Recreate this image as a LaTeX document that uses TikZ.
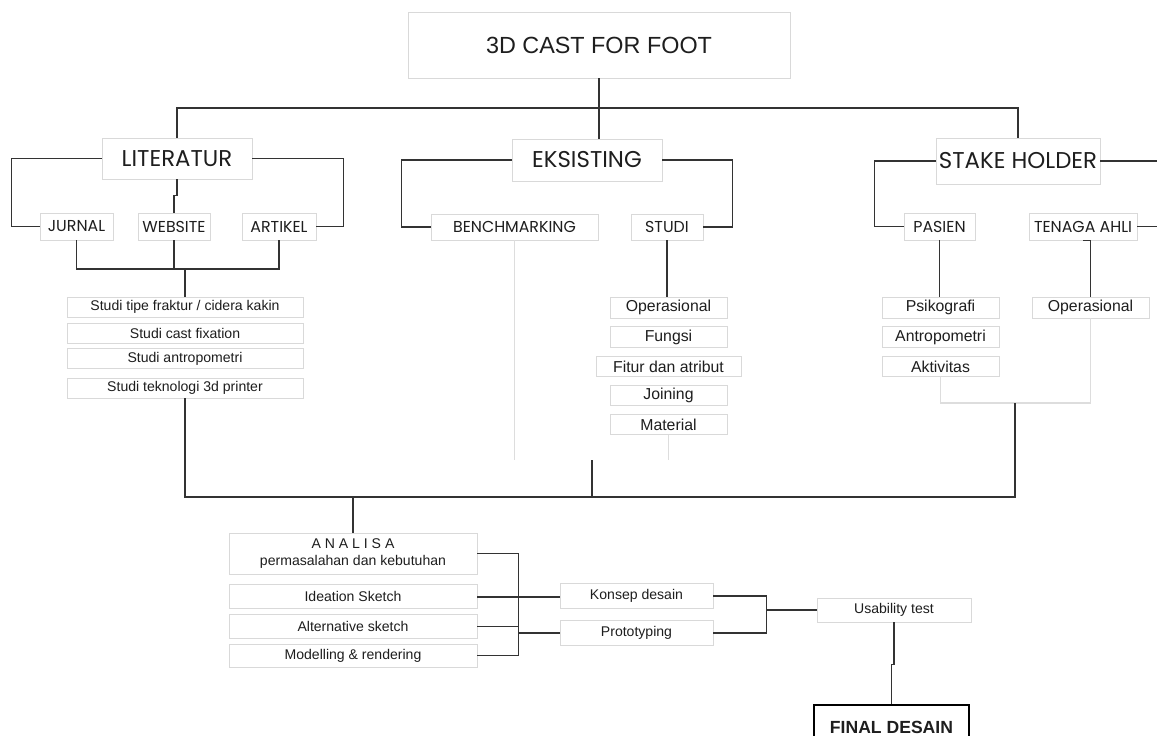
\documentclass[tikz,border=0pt]{standalone}
\usepackage{fontspec}
\setmainfont{Liberation Sans}
\newfontfamily\gothic{Poppins}
\usetikzlibrary{positioning}
\definecolor{linegray}{HTML}{333333}
\definecolor{boxgray}{HTML}{D9D9D9}
\definecolor{fadegray}{HTML}{DDDDDD}
\definecolor{textdark}{HTML}{1E1E1E}
\tikzset{
    box/.style={draw=boxgray, line width=0.4pt, inner sep=0pt, text=textdark, align=center},
    boxsize/.style 2 args={minimum width=#1*0.2mm, minimum height=#2*0.2mm},
    headbox/.style={box, font=\gothic\fontsize{13}{15}\selectfont},
    subbox/.style={box, font=\gothic\fontsize{9}{11}\selectfont},
    listbox/.style={box, font=\fontsize{8}{9.5}\selectfont},
    factbox/.style={box, font=\fontsize{9}{11}\selectfont},
    link/.style={draw=linegray, line width=0.9pt},
    faint/.style={draw=fadegray, line width=0.6pt}
}

\begin{document}
\begin{tikzpicture}[x=0.2mm, y=-0.2mm]
    \clip (0,0) rectangle (1157,735);
    \fill[white] (0,0) rectangle (1157,735);

    % Define the boxes
    \node[box, boxsize={382}{66}, font=\fontsize{13.3}{16}\selectfont] (title) at (599,45) {3D CAST FOR FOOT};
    \node[headbox, boxsize={150}{41}] (lit) at (177,158.5) {LITERATUR};
    \node[headbox, boxsize={150}{42}] (eks) at (587,160) {EKSISTING};
    \node[headbox, boxsize={164}{46}] (stake) at (1018,161) {STAKE HOLDER};

    \node[subbox, boxsize={73}{27}] (jurnal) at (76.5,226.5) {JURNAL};
    \node[subbox, boxsize={72}{27}] (website) at (174,226.5) {WEBSITE};
    \node[subbox, boxsize={74}{27}] (artikel) at (279,226.5) {ARTIKEL};
    \node[subbox, boxsize={167}{26}] (bench) at (514.5,227) {BENCHMARKING};
    \node[subbox, boxsize={72}{26}] (studi) at (667,227) {STUDI};
    \node[subbox, boxsize={71}{27}] (pasien) at (939.5,226.5) {PASIEN};
    \node[subbox, boxsize={108}{27}] (tenaga) at (1083,226.5) {TENAGA AHLI};

    \node[listbox, boxsize={236}{20}] (st1) at (185,307) {Studi tipe fraktur / cidera kakin};
    \node[listbox, boxsize={236}{20}, below=1.2mm of st1] (st2) {Studi cast fixation};
    \node[listbox, boxsize={236}{20}, below=0.8mm of st2] (st3) {Studi antropometri};
    \node[listbox, boxsize={236}{20}, below=1.8mm of st3] (st4) {Studi teknologi 3d printer};

    \node[factbox, boxsize={117}{21}] (op) at (668.5,307.5) {Operasional};
    \node[factbox, boxsize={117}{21}, below=1.6mm of op] (fungsi) {Fungsi};
    \node[factbox, boxsize={145}{20}, below=1.6mm of fungsi] (fitur) {Fitur dan atribut};
    \node[factbox, boxsize={117}{20}, below=1.6mm of fitur] (joining) {Joining};
    \node[factbox, boxsize={117}{20}, below=1.8mm of joining] (material) {Material};

    \node[factbox, boxsize={117}{21}] (psiko) at (940.5,307.5) {Psikografi};
    \node[factbox, boxsize={117}{21}, below=1.6mm of psiko] (antro) {Antropometri};
    \node[factbox, boxsize={117}{20}, below=1.6mm of antro] (aktiv) {Aktivitas};
    \node[factbox, boxsize={117}{21}] (opahli) at (1090.5,307.5) {Operasional};

    \node[listbox, boxsize={248}{41}] (analisa) at (353,553.5) {A N A L I S A\\permasalahan dan kebutuhan};
    \node[listbox, boxsize={248}{24}, below=2mm of analisa] (ideation) {Ideation Sketch};
    \node[listbox, boxsize={248}{24}, below=1mm of ideation] (alter) {Alternative sketch};
    \node[listbox, boxsize={248}{23}, below=1mm of alter] (model) {Modelling \& rendering};

    \node[listbox, boxsize={153}{25}] (konsep) at (636.5,596) {Konsep desain};
    \node[listbox, boxsize={153}{25}, below=2.2mm of konsep] (proto) {Prototyping};
    \node[listbox, boxsize={154}{24}] (usab) at (894,610) {Usability test};
    \node[box, draw=black, line width=1.2pt, boxsize={155}{44}, font=\bfseries\fontsize{10}{12}\selectfont] (final) at (891.5,727) {FINAL DESAIN};

    % Junctions
    \coordinate (top) at (599,108);
    \coordinate (litjoin) at (185,269);
    \coordinate (bot) at (353,497);
    \coordinate (eksend) at (592,460);
    \coordinate (shend) at (1015,403);
    \coordinate (offstake) at (1180,161);
    \coordinate (offahli) at (1180,226.5);

    % Draw lines between the boxes
    \draw[link] (lit.north) |- (top) -| (stake.north);
    \draw[link] (title.south) -- (title.south |- eks.north);
    \draw[link] (lit.west) -- ++(-90,0) |- (jurnal.west);
    \draw[link] (lit.east) -- ++(91,0) |- (artikel.east);
    \draw[link] (lit.south) -- ++(0,16) -| (website.north);
    \draw[link] (jurnal.south) |- (artikel.south |- litjoin) -- (artikel.south);
    \draw[link] (website.south) -- (website.south |- litjoin);
    \draw[link] (litjoin) -- (st1.north);
    \draw[link] (eks.west) -- ++(-110,0) |- (bench.west);
    \draw[link] (eks.east) -- ++(70,0) |- (studi.east);
    \draw[link] (studi.south) -- (studi.south |- op.north);
    \draw[link] (stake.west) -- ++(-61,0) |- (pasien.west);
    \draw[link] (stake.east) -- (offstake);
    \draw[link] (tenaga.east) -- (offahli);
    \draw[link] (pasien.south) -- (pasien.south |- psiko.north);
    \draw[link] (tenaga.south) -| (opahli.north);
    \draw[faint] (bench.south) -- (bench.south |- eksend);
    \draw[faint] (material.south) -- (material.south |- eksend);
    \draw[faint] (aktiv.south) |- (opahli.south |- shend) -- (opahli.south);
    \draw[link] (st4.south) |- (bot);
    \draw[link] (shend) |- (bot);
    \draw[link] (eksend) -- (eksend |- bot);
    \draw[link] (bot) -- (analisa.north);

    \draw[link] (analisa.east) -- ++(41,0) |- (model.east);
    \draw[link] (ideation.east) -- (ideation.east -| konsep.west);
    \draw[link] (alter.east) -- ++(41,0);
    \draw[link] (proto.west) -- ++(-42,0);
    \draw[link] (konsep.east) -- ++(53,0) |- (proto.east);
    \draw[link] (usab.west) -- ++(-51,0);
    \draw[link] (usab.south) -- ++(0,42) -| (final.north);
\end{tikzpicture}
\end{document}
